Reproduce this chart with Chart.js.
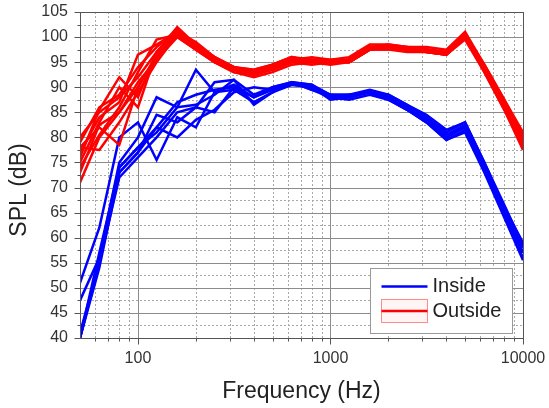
<!DOCTYPE html>
<html>
<head>
<meta charset="utf-8">
<title>SPL inside / outside</title>
<script src="https://cdn.jsdelivr.net/npm/chart.js@4.4.1/dist/chart.umd.min.js"></script>
<style>
  html, body { margin: 0; padding: 0; background: #fff; }
  #spl { display: block; }
</style>
</head>
<body>
<canvas id="spl" width="549" height="408"></canvas>
<script>
// 1/3 octave band centres (Hz)
const freqs = [50, 63, 80, 100, 125, 160, 200, 250, 315, 400, 500, 630, 800,
  1000, 1250, 1600, 2000, 2500, 3150, 4000, 5000, 6300, 8000, 10000];

// Inside measurements (dB)
const inside1 = [40, 57, 74, 78, 81, 86, 93.5, 89, 90.5, 88, 89.5, 91, 90, 88.5, 88, 89, 88, 86, 83.5, 80, 82, 74, 65, 57];
const inside2 = [51, 62, 80, 83, 75.5, 84, 82, 89, 89.5, 87, 89, 91, 90.5, 88, 88.5, 89, 88.5, 86.5, 84, 81, 83, 75, 66, 59];
const inside3 = [47.5, 56, 75, 80, 88, 86, 86.5, 88.5, 91.5, 88.5, 90, 91, 89.5, 88, 88, 89, 88, 86, 83.5, 80.5, 82.5, 74.5, 65.5, 58];
const inside4 = [40, 54, 73, 77, 82, 80, 83.5, 85.5, 89, 90, 89.5, 90.5, 90, 88, 87.5, 88.5, 87.5, 85.5, 83, 79.5, 81, 73, 64, 55.5];
const inside5 = [40, 55, 72, 76, 80, 85, 86, 85, 90, 87, 89, 91, 89.5, 88.5, 88.5, 89, 88, 85.5, 83, 79.5, 81.5, 73.5, 64.5, 56];
const inside6 = [41, 55, 73, 77, 84.5, 83, 86, 91, 91.5, 86.5, 89, 90.5, 90, 87.5, 88, 89, 87.5, 85.5, 83.5, 80.5, 82, 74, 65, 57];
const inside7 = [40, 55, 74, 78, 82, 87, 88.5, 89.5, 90, 88, 90, 91, 90.5, 88.5, 88.5, 89.5, 88.5, 86.5, 84.5, 81.5, 83, 75, 66.5, 58.5];

// Outside measurements (dB)
const outside1 = [71, 80, 85, 90, 96, 101, 98, 95.5, 94, 93, 94, 95.5, 95.5, 95, 95.5, 98, 98, 97.5, 97.5, 97, 100.5, 94, 86.5, 79];
const outside2 = [80, 85, 88, 92, 97, 101.5, 98.5, 96, 94, 93.5, 94.5, 96, 95, 95, 95.5, 98, 98.5, 98, 97.5, 97, 100.5, 94.5, 87.5, 80.5];
const outside3 = [78, 77.5, 83, 89, 95, 100.5, 98, 95, 93.5, 92.5, 93.5, 95, 95.5, 95, 95, 97.5, 98, 97.5, 97, 96.5, 100, 93.5, 86, 78];
const outside4 = [76, 85.5, 92, 88, 97, 102, 98.5, 95.5, 94, 93, 94, 95.5, 96, 95.5, 95.5, 98, 98, 97.5, 97.5, 97, 101, 94, 87, 79.5];
const outside5 = [78, 82, 78.5, 90, 96.5, 100, 97.5, 95, 93, 92.5, 93.5, 95, 94.5, 95, 95, 97.5, 98, 97.5, 97, 96.5, 100, 93, 85.5, 77.5];
const outside6 = [75, 83, 90, 86, 97, 101, 98, 95.5, 93.5, 93, 94, 95.5, 95, 95, 95.5, 98, 98, 97.5, 97.5, 97, 100.5, 94, 86.5, 79];
const outside7 = [77, 84, 87, 96.5, 98.5, 101, 99, 96, 94, 93.5, 94.5, 96, 95.5, 95.5, 96, 98.5, 98.5, 98, 98, 97.5, 101, 94.5, 87.5, 81];
const outside8 = [74, 80.5, 86, 93, 99.5, 100.5, 97.5, 95, 93.5, 92.5, 93.5, 95, 95.5, 95, 95, 97.5, 97.5, 97.5, 97, 96.5, 100, 93.5, 86, 78.5];
const outside9 = [79, 86, 88.5, 94, 98, 101.5, 98.5, 96, 94, 93, 94.5, 96, 95, 95, 95.5, 98, 98, 98, 97.5, 97, 100.5, 94, 87, 80];
const outside10 = [73, 82.5, 85, 91, 95.5, 100, 97.5, 95, 93, 92, 93, 94.5, 95, 94.5, 95, 97.5, 97.5, 97, 97, 96.5, 99.5, 93, 85.5, 78];

const insideSeries = [inside1, inside2, inside3, inside4, inside5, inside6, inside7];
const outsideSeries = [outside1, outside2, outside3, outside4, outside5, outside6, outside7, outside8, outside9, outside10];

// Axis ticks
const xLabelTicks = [100, 1000, 10000];
const xMinorTicks = [60, 70, 80, 90, 200, 300, 400, 500, 600, 700, 800, 900,
  2000, 3000, 4000, 5000, 6000, 7000, 8000, 9000];
const yMajorTicks = [40, 45, 50, 55, 60, 65, 70, 75, 80, 85, 90, 95, 100, 105];
const yMinorTicks = [42.5, 47.5, 52.5, 57.5, 62.5, 67.5, 72.5, 77.5, 82.5, 87.5, 92.5, 97.5, 102.5];

const legendLabels = ['Inside', 'Outside'];
const xTitle = 'Frequency (Hz)';
const yTitle = 'SPL (dB)';

const FONT = 'Arial, "Liberation Sans", sans-serif';
const BLUE = '#0000ff';
const RED = '#ff0000';

const toPoints = (vals) => vals.map((v, i) => ({ x: freqs[i], y: v }));

function lineSet(vals, color) {
  return {
    data: toPoints(vals),
    borderColor: color,
    borderWidth: 2.5,
    pointRadius: 0,
    fill: false,
    tension: 0
  };
}

/**
 * Grid, frame, ticks, axis titles and legend
 */
const decorPlugin = {
  id: 'decor',
  beforeDatasetsDraw(chart) {
    const { ctx, chartArea: a, scales: { x, y } } = chart;
    ctx.save();
    ctx.lineWidth = 1;

    // dotted minor grid
    ctx.strokeStyle = '#a8a8a8';
    ctx.setLineDash([2, 2]);
    ctx.beginPath();
    xMinorTicks.forEach(f => {
      const px = Math.round(x.getPixelForValue(f)) + 0.5;
      ctx.moveTo(px, a.top); ctx.lineTo(px, a.bottom);
    });
    yMinorTicks.forEach(v => {
      const py = Math.round(y.getPixelForValue(v)) + 0.5;
      ctx.moveTo(a.left, py); ctx.lineTo(a.right, py);
    });
    ctx.stroke();

    // solid major grid
    ctx.setLineDash([]);
    ctx.strokeStyle = '#8c8c8c';
    ctx.beginPath();
    yMajorTicks.forEach(v => {
      const py = Math.round(y.getPixelForValue(v)) + 0.5;
      ctx.moveTo(a.left, py); ctx.lineTo(a.right, py);
    });
    xLabelTicks.forEach(f => {
      const px = Math.round(x.getPixelForValue(f)) + 0.5;
      ctx.moveTo(px, a.top); ctx.lineTo(px, a.bottom);
    });
    ctx.stroke();
    ctx.restore();
  },
  afterDatasetsDraw(chart) {
    const { ctx, chartArea: a, scales: { x, y } } = chart;
    ctx.save();
    ctx.lineWidth = 1;
    ctx.strokeStyle = '#555';
    ctx.strokeRect(Math.round(a.left) + 0.5, Math.round(a.top) + 0.5,
      Math.round(a.right - a.left), Math.round(a.bottom - a.top));

    // outward ticks
    ctx.beginPath();
    const bx = Math.round(a.left) + 0.5;
    yMajorTicks.forEach(v => {
      const py = Math.round(y.getPixelForValue(v)) + 0.5;
      ctx.moveTo(bx, py); ctx.lineTo(bx - 6, py);
    });
    yMinorTicks.forEach(v => {
      const py = Math.round(y.getPixelForValue(v)) + 0.5;
      ctx.moveTo(bx, py); ctx.lineTo(bx - 3, py);
    });
    const by = Math.round(a.bottom) + 0.5;
    xLabelTicks.forEach(f => {
      const px = Math.round(x.getPixelForValue(f)) + 0.5;
      ctx.moveTo(px, by); ctx.lineTo(px, by + 6);
    });
    xMinorTicks.forEach(f => {
      const px = Math.round(x.getPixelForValue(f)) + 0.5;
      ctx.moveTo(px, by); ctx.lineTo(px, by + 3);
    });
    ctx.stroke();

    // axis titles
    ctx.fillStyle = '#222';
    ctx.font = '23px ' + FONT;
    ctx.textAlign = 'center';
    ctx.textBaseline = 'middle';
    ctx.fillText(xTitle, (a.left + a.right) / 2, 392);
    ctx.translate(20, (a.top + a.bottom) / 2 + 15);
    ctx.rotate(-Math.PI / 2);
    ctx.fillText(yTitle, 0, 0);
    ctx.restore();
  },
  afterDraw(chart) {
    const { ctx, chartArea: a } = chart;
    const w = 142, h = 65;
    const lx = Math.round(a.right - 11 - w) + 0.5;
    const ly = Math.round(a.bottom - 5 - h) + 0.5;
    ctx.save();
    ctx.fillStyle = '#fff';
    ctx.fillRect(lx, ly, w, h);
    ctx.strokeStyle = '#999';
    ctx.lineWidth = 1;
    ctx.strokeRect(lx, ly, w, h);

    // Inside sample
    ctx.strokeStyle = BLUE;
    ctx.lineWidth = 2.5;
    ctx.beginPath();
    ctx.moveTo(lx + 11, ly + 18); ctx.lineTo(lx + 57, ly + 18);
    ctx.stroke();

    // Outside sample (band box + line)
    ctx.fillStyle = 'rgba(255,0,0,0.04)';
    ctx.fillRect(lx + 11, ly + 31, 46, 23);
    ctx.strokeStyle = '#ff8a8a';
    ctx.lineWidth = 1;
    ctx.strokeRect(lx + 11, ly + 31, 46, 23);
    ctx.strokeStyle = RED;
    ctx.lineWidth = 2.5;
    ctx.beginPath();
    ctx.moveTo(lx + 11, ly + 42.5); ctx.lineTo(lx + 57, ly + 42.5);
    ctx.stroke();

    ctx.fillStyle = '#222';
    ctx.font = '20px ' + FONT;
    ctx.textAlign = 'left';
    ctx.textBaseline = 'middle';
    ctx.fillText(legendLabels[0], lx + 62, ly + 18);
    ctx.fillText(legendLabels[1], lx + 62, ly + 42.5);
    ctx.restore();
  }
};

// red first so it is drawn on top of the blue
const datasets = [
  ...outsideSeries.map(s => lineSet(s, RED)),
  ...insideSeries.map(s => lineSet(s, BLUE))
];

new Chart(document.getElementById('spl').getContext('2d'), {
  type: 'line',
  data: { datasets },
  options: {
    responsive: false,
    animation: false,
    layout: { padding: { top: 12, right: 26, left: 0, bottom: 0 } },
    plugins: {
      legend: { display: false },
      tooltip: { enabled: false }
    },
    scales: {
      x: {
        type: 'logarithmic',
        min: 50,
        max: 10000,
        afterBuildTicks: (scale) => {
          scale.ticks = xLabelTicks.map(v => ({ value: v }));
        },
        afterFit: (scale) => {
          scale.height = 70;
          scale.paddingLeft = 0;
          scale.paddingRight = 0;
        },
        grid: { display: false, drawTicks: false },
        border: { display: false },
        ticks: {
          padding: 11,
          maxRotation: 0,
          autoSkip: false,
          color: '#333',
          font: { family: FONT, size: 16 },
          callback: (v) => String(v)
        }
      },
      y: {
        type: 'linear',
        min: 40,
        max: 105,
        afterBuildTicks: (scale) => {
          scale.ticks = yMajorTicks.map(v => ({ value: v }));
        },
        afterFit: (scale) => {
          scale.width = 80;
          scale.paddingTop = 0;
          scale.paddingBottom = 0;
        },
        grid: { display: false, drawTicks: false },
        border: { display: false },
        ticks: {
          padding: 12,
          color: '#333',
          font: { family: FONT, size: 16 }
        }
      }
    }
  },
  plugins: [decorPlugin]
});
</script>
</body>
</html>
